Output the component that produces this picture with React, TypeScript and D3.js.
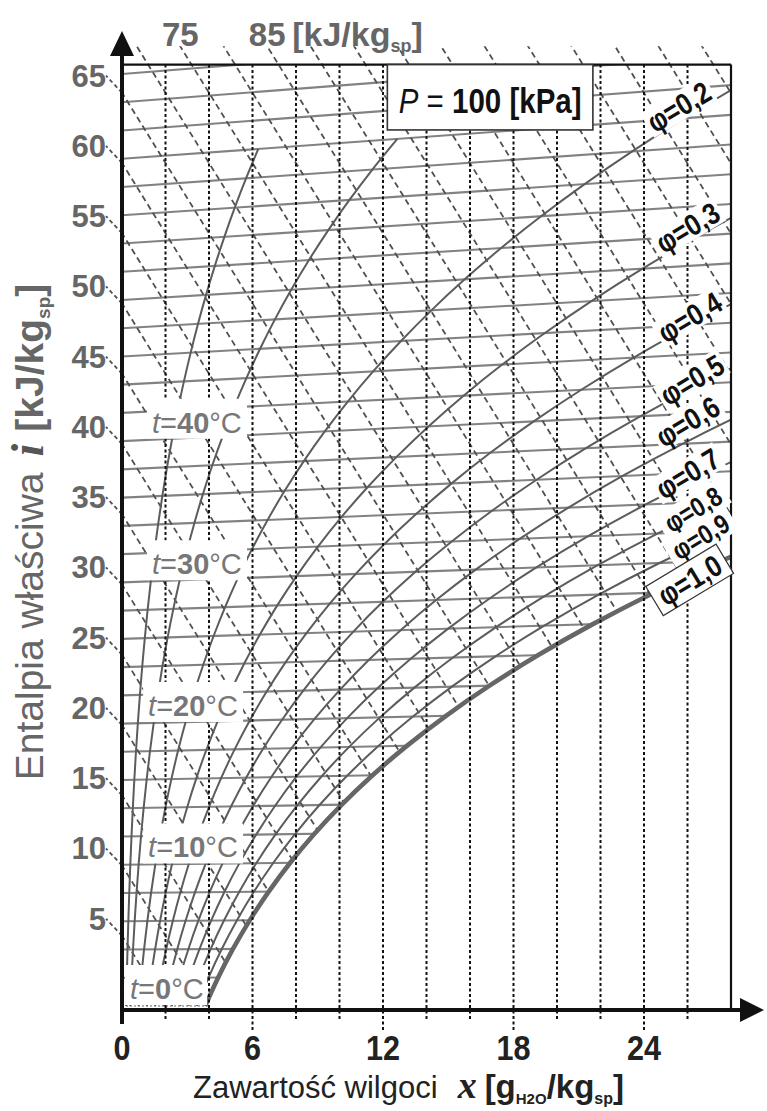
import * as d3 from 'd3';

// --- chart data ---------------------------------------------------------
const P_KPA = 100;
const X_MAX = 28; // g/kg
const V_MAX = 67; // top of the chart, kJ/kg at x = 0

// isotherms every 2 degC and the saturation pressure of water at each [kPa]
const tempsC = [0, 2, 4, 6, 8, 10, 12, 14, 16, 18, 20, 22, 24, 26, 28, 30, 32, 34, 36, 38, 40, 42, 44, 46, 48, 50, 52, 54, 56, 58, 60, 62, 64, 66];
const satPressure = [0.6112, 0.706, 0.8135, 0.9353, 1.0729, 1.2281, 1.4027, 1.5988, 1.8185, 2.0643, 2.3389, 2.6448, 2.9852, 3.3633, 3.7823, 4.2462, 4.7586, 5.3242, 5.9468, 6.6315, 7.3838, 8.209, 9.1125, 10.104, 11.178, 12.352, 13.631, 15.022, 16.533, 18.171, 19.946, 21.867, 23.943, 26.183];

const phiValues = [0.05, 0.1, 0.2, 0.3, 0.4, 0.5, 0.6, 0.7, 0.8, 0.9, 1.0];
const phiMaxTemp = [60, 60, 66, 66, 66, 66, 66, 66, 66, 66, 66];

const labelledPhi = [0.2, 0.3, 0.4, 0.5, 0.6, 0.7, 0.8, 0.9, 1.0];
const phiLabelText = ['φ=0,2', 'φ=0,3', 'φ=0,4', 'φ=0,5', 'φ=0,6', 'φ=0,7', 'φ=0,8', 'φ=0,9', 'φ=1,0'];

const enthalpyLines = [5, 10, 15, 20, 25, 30, 35, 40, 45, 50, 55, 60, 65, 70, 75, 80, 85, 90, 95, 100, 105, 110, 115, 120, 125, 130, 135];
const enthalpyTicks = [5, 10, 15, 20, 25, 30, 35, 40, 45, 50, 55, 60, 65];
const enthalpyTopTicks = [75, 85];

const xGrid = [2, 4, 6, 8, 10, 12, 14, 16, 18, 20, 22, 24, 26];
const xTicks = [0, 6, 12, 18, 24];
const tLabelTemps = [0, 10, 20, 30, 40];

// --- layout -------------------------------------------------------------
const W = 767;
const H = 1111;
const FONT = '"Liberation Sans", Arial, Helvetica, sans-serif';
const SERIF = '"Liberation Serif", "Times New Roman", serif';
// where along x the phi labels sit, and how far above the curve (px)
const phiLabelX = [25.6, 26.0, 26.1, 26.2, 26.0, 26.0, 26.25, 26.6, 26.1];
const phiLabelLift = [15, 15, 9, 9, 20, 10, 7, 7, -4];
const tLabelX = [0.37, 1.2, 1.2, 1.38, 1.38];

export default function App() {
  const xs = d3.scaleLinear().domain([0, X_MAX]).range([122, 731]);
  const ys = d3.scaleLinear().domain([0, V_MAX]).range([1006, 64.6]);

  const humidity = (phi: number, ps: number) => (622 * phi * ps) / (P_KPA - phi * ps);
  const ordinate = (t: number, x: number) => 1.005 * t + 0.00186 * t * x;
  const tFromPs = d3.scaleLinear().domain(satPressure).range(tempsC);
  const phiOrdinateAt = (phi: number, x: number) => {
    const pv = (x * P_KPA) / (622 + x);
    const t = tFromPs(pv / phi);
    return ordinate(t, x);
  };

  const straight = d3
    .line<[number, number]>()
    .x((d) => xs(d[0]))
    .y((d) => ys(d[1]));
  const smooth = d3
    .line<[number, number]>()
    .x((d) => xs(d[0]))
    .y((d) => ys(d[1]))
    .curve(d3.curveCatmullRom.alpha(0.5));

  const phiCurve = (phi: number, tMax: number): [number, number][] =>
    tempsC
      .map((t, k) => {
        const x = humidity(phi, satPressure[k]);
        return [x, ordinate(t, x), t] as [number, number, number];
      })
      .filter((p) => p[2] <= tMax && p[0] < X_MAX + 6)
      .map((p) => [p[0], p[1]] as [number, number]);

  const satPts = phiCurve(1, 66);
  const satD = smooth(satPts) as string;
  const x0 = satPts[0][0];
  const lastSat = satPts[satPts.length - 1];
  const unsatD =
    satD +
    ` L${xs(lastSat[0] + 10)},${ys(lastSat[1])} L${xs(lastSat[0] + 10)},${ys(90)}` +
    ` L${xs(-10)},${ys(90)} L${xs(-10)},${ys(-10)} L${xs(x0)},${ys(-10)} Z`;

  const axisY = ys(0) + 4;

  return (
    <svg
      width={W}
      height={H}
      style={{ position: 'absolute', left: 0, top: 0, background: '#fff' }}
      fontFamily={FONT}
    >
      <defs>
        <clipPath id="frameSolid">
          <rect x={xs(0)} y={ys(V_MAX)} width={xs(X_MAX) - xs(0)} height={ys(-0.3) - ys(V_MAX)} />
        </clipPath>
        <clipPath id="frameDash">
          <rect x={xs(0)} y={ys(68.3)} width={xs(X_MAX) - xs(0)} height={ys(-0.3) - ys(68.3)} />
        </clipPath>
        <clipPath id="unsat">
          <path d={unsatD} />
        </clipPath>
      </defs>

      {/* isotherms */}
      <g clipPath="url(#frameSolid)">
        <g clipPath="url(#unsat)">
          {tempsC.map((t) => (
            <path
              key={'t' + t}
              d={straight([
                [0, ordinate(t, 0)],
                [X_MAX, ordinate(t, X_MAX)],
              ]) as string}
              fill="none"
              stroke={t === 0 ? '#999' : '#828282'}
              strokeWidth={t === 0 ? 1.5 : 2.1}
              strokeDasharray={t === 0 ? '2 2' : undefined}
            />
          ))}
        </g>
      </g>

      {/* enthalpy lines */}
      <g clipPath="url(#frameDash)">
        <g clipPath="url(#unsat)">
          {enthalpyLines.map((i) => (
            <path
              key={'i' + i}
              d={straight([
                [-1, i + 2.501],
                [40, i - 2.501 * 40],
              ]) as string}
              fill="none"
              stroke="#505050"
              strokeWidth={1.8}
              strokeDasharray="6 4"
            />
          ))}
        </g>
      </g>
      {enthalpyTicks.map((i) => (
        <line
          key={'ie' + i}
          x1={xs(0)}
          y1={ys(i)}
          x2={xs(0) - 16}
          y2={ys(i) - 17}
          stroke="#505050"
          strokeWidth={1.8}
          strokeDasharray="4 3"
        />
      ))}

      {/* relative humidity curves */}
      <g clipPath="url(#frameSolid)">
        {phiValues.map((phi, k) =>
          phi < 1 ? (
            <path
              key={'phi' + phi}
              d={smooth(phiCurve(phi, phiMaxTemp[k])) as string}
              fill="none"
              stroke="#5c5c5c"
              strokeWidth={2}
            />
          ) : null
        )}
        <path d={satD} fill="none" stroke="#666" strokeWidth={4.6} />
      </g>

      {/* vertical x grid */}
      {xGrid.map((x) => (
        <line
          key={'xg' + x}
          x1={xs(x)}
          x2={xs(x)}
          y1={ys(V_MAX)}
          y2={x % 6 === 0 ? axisY + 20 : axisY + 9}
          stroke="#111"
          strokeWidth={2}
          strokeDasharray="3 2.5"
        />
      ))}

      {/* frame */}
      <line x1={xs(0)} x2={xs(X_MAX)} y1={ys(V_MAX)} y2={ys(V_MAX)} stroke="#111" strokeWidth={2.2} />
      <line x1={xs(X_MAX)} x2={xs(X_MAX)} y1={ys(V_MAX)} y2={axisY} stroke="#111" strokeWidth={2.2} />

      {/* axes */}
      <line x1={xs(0)} x2={xs(0)} y1={axisY + 14} y2={54} stroke="#111" strokeWidth={4} />
      <polygon points={`${xs(0)},31 ${xs(0) - 12},56 ${xs(0) + 12},56`} fill="#111" />
      <line x1={xs(0) - 2} x2={742} y1={axisY} y2={axisY} stroke="#111" strokeWidth={4} />
      <polygon points={`764,${axisY} 740,${axisY - 12} 740,${axisY + 12}`} fill="#111" />

      {/* x tick labels */}
      {xTicks.map((x) => (
        <text
          key={'xt' + x}
          transform={`translate(${xs(x)},1060) scale(0.85,1)`}
          textAnchor="middle"
          fontSize={36}
          fontWeight="bold"
          fill="#222"
        >
          {x}
        </text>
      ))}

      {/* enthalpy labels on the axis */}
      {enthalpyTicks.map((i) => (
        <text
          key={'il' + i}
          x={106}
          y={ys(i) - 6}
          textAnchor="end"
          fontSize={31}
          fontWeight="bold"
          fill="#666"
        >
          {i}
        </text>
      ))}
      {enthalpyTopTicks.map((i) => (
        <text
          key={'itop' + i}
          x={xs((i - 68.3) / 2.501)}
          y={ys(68.3)}
          textAnchor="middle"
          fontSize={33}
          fontWeight="bold"
          fill="#666"
        >
          {i}
        </text>
      ))}
      <text x={xs((85 - 68.3) / 2.501) + 25} y={ys(68.3)} fontSize={34} fontWeight="bold" fill="#666">
        [kJ/kg
        <tspan fontSize={18} dy={6}>
          sp
        </tspan>
        <tspan dy={-6}>]</tspan>
      </text>

      {/* temperature labels */}
      {tLabelTemps.map((t, k) => {
        const lx = xs(tLabelX[k]);
        const ly = ys(ordinate(t, tLabelX[k])) - 7;
        return (
          <g key={'tl' + t}>
            <rect x={lx - 5} y={ly - 34} width={t === 0 ? 82 : 100} height={40} fill="#fff" />
            <text x={lx} y={ly} fontSize={29} fill="#777">
              <tspan fontStyle="italic">t</tspan>
              <tspan>=</tspan>
              <tspan fontWeight="bold">{t}</tspan>
              <tspan>°C</tspan>
            </text>
          </g>
        );
      })}

      {/* phi labels */}
      {labelledPhi.map((phi, k) => {
        const lx = phiLabelX[k];
        const cx = xs(lx);
        const cy = ys(phiOrdinateAt(phi, lx)) - phiLabelLift[k];
        const boxed = phi === 1;
        const small = phi === 0.8 || phi === 0.9;
        return (
          <g key={'pl' + phi} transform={`translate(${cx},${cy}) rotate(-31)`}>
            <rect
              x={boxed ? -41 : -37}
              y={boxed ? -17 : -14}
              width={boxed ? 82 : 74}
              height={boxed ? 34 : 28}
              fill="#fff"
              stroke={boxed ? '#333' : 'none'}
              strokeWidth={1.2}
            />
            <text
              transform="scale(0.85,1)"
              textAnchor="middle"
              dy="0.36em"
              fontSize={small ? 27 : 30}
              fontWeight="bold"
              fill="#111"
            >
              {phiLabelText[k]}
            </text>
          </g>
        );
      })}

      {/* pressure box */}
      <rect
        x={xs(12.2)}
        y={ys(V_MAX)}
        width={xs(21.65) - xs(12.2)}
        height={ys(62.35) - ys(V_MAX)}
        fill="#fff"
        stroke="#333"
        strokeWidth={1.6}
      />
      <text
        transform={`translate(${(xs(12.2) + xs(21.65)) / 2},113) scale(0.82,1)`}
        textAnchor="middle"
        fontSize={36}
        fill="#111"
      >
        <tspan fontStyle="italic">P</tspan>
        <tspan> = </tspan>
        <tspan fontWeight="bold">100 [kPa]</tspan>
      </text>

      {/* axis titles */}
      <text x={193} y={1098} fontSize={31} fill="#222">
        Zawartość wilgoci
        <tspan dx={20} fontFamily={SERIF} fontStyle="italic" fontWeight="bold" fontSize={38}>
          x
        </tspan>
        <tspan dx={8} fontWeight="bold" fontSize={33}>
          [g
        </tspan>
        <tspan fontWeight="bold" fontSize={15} dy={6}>
          H2O
        </tspan>
        <tspan fontWeight="bold" fontSize={33} dy={-6}>
          /kg
        </tspan>
        <tspan fontWeight="bold" fontSize={16} dy={6}>
          sp
        </tspan>
        <tspan fontWeight="bold" fontSize={33} dy={-6}>
          ]
        </tspan>
      </text>
      <text transform="translate(43,532) rotate(-90)" textAnchor="middle" fontSize={39} fill="#666">
        Entalpia właściwa
        <tspan dx={16} fontFamily={SERIF} fontStyle="italic" fontWeight="bold" fontSize={46} fill="#555">
          i
        </tspan>
        <tspan dx={12} fontWeight="bold">
          [kJ/kg
        </tspan>
        <tspan fontWeight="bold" fontSize={19} dy={7}>
          sp
        </tspan>
        <tspan fontWeight="bold" dy={-7}>
          ]
        </tspan>
      </text>
    </svg>
  );
}
